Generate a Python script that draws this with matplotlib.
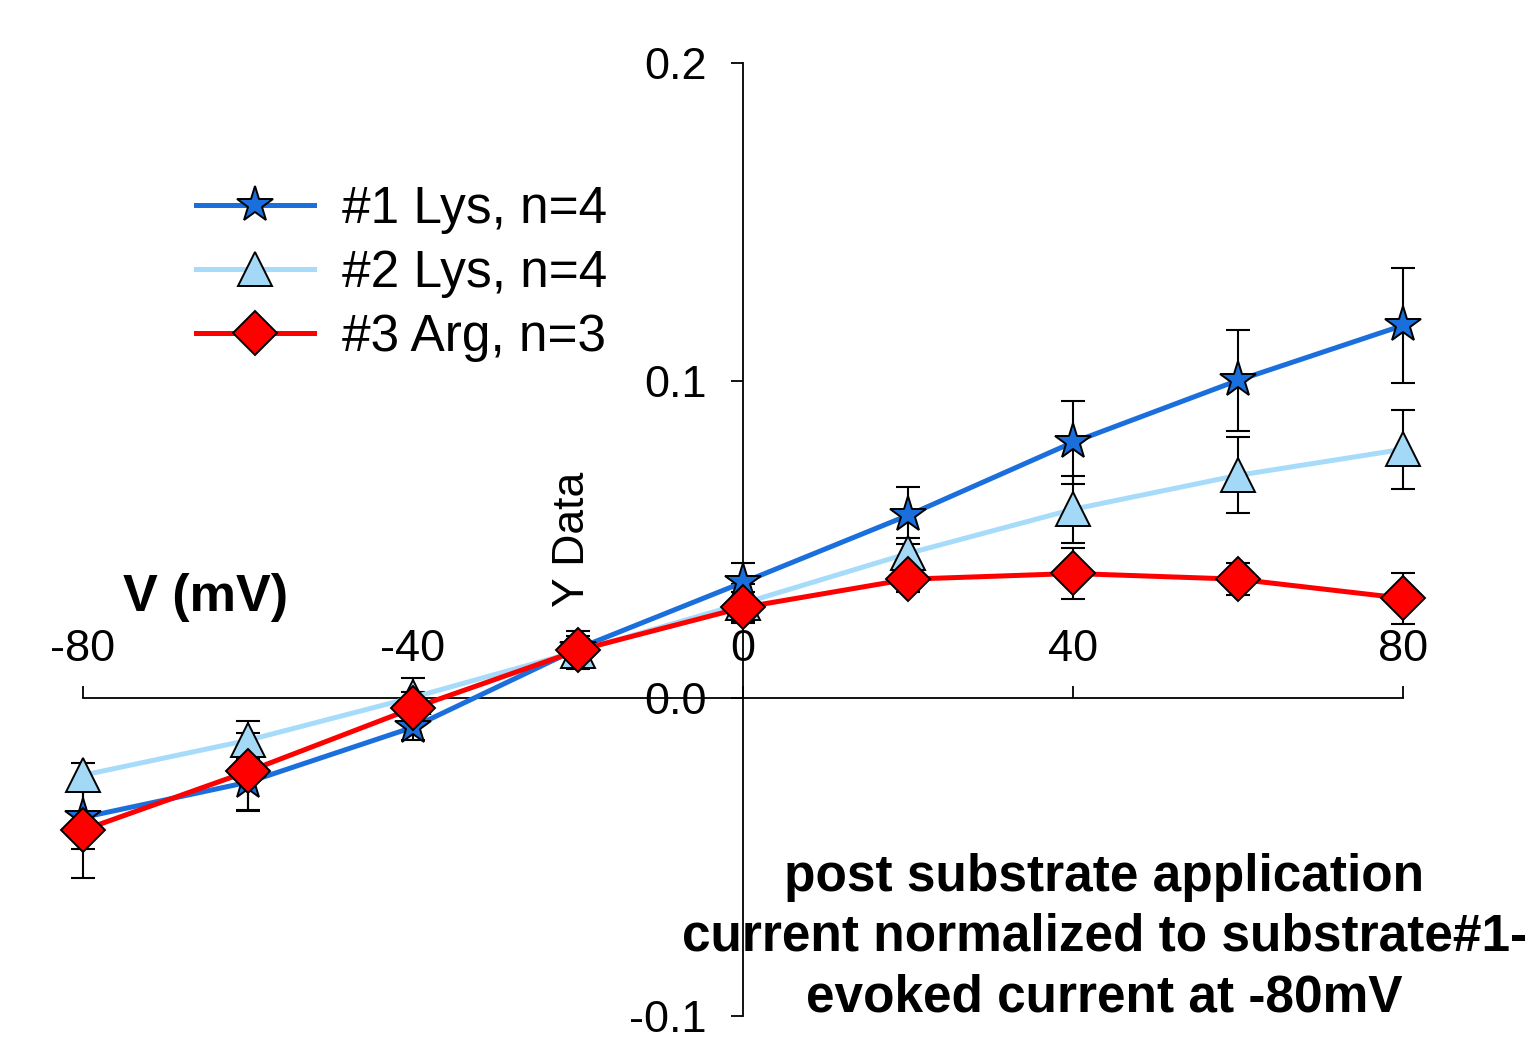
import numpy as np
import matplotlib
matplotlib.use("Agg")
import matplotlib.pyplot as plt

plt.rcParams['font.family'] = ['Liberation Sans', 'DejaVu Sans']

# ---- data ----
voltage = [-80, -60, -40, -20, 0, 20, 40, 60, 80]

lys1_mean = [-0.0375, -0.0264, -0.0091, 0.0157, 0.0365, 0.0576, 0.0806, 0.1001, 0.1174]
lys1_err = [0.010, 0.009, 0.004, 0.004, 0.006, 0.009, 0.013, 0.016, 0.018]

lys2_mean = [-0.0242, -0.0132, 0.0003, 0.0148, 0.0299, 0.0456, 0.0595, 0.0702, 0.0784]
lys2_err = [0.004, 0.006, 0.006, 0.004, 0.006, 0.005, 0.0105, 0.012, 0.0125]

arg3_mean = [-0.0415, -0.0230, -0.0031, 0.0151, 0.0286, 0.0375, 0.0393, 0.0375, 0.0315]
arg3_err = [0.015, 0.012, 0.005, 0.006, 0.005, 0.004, 0.008, 0.005, 0.008]

series = [
    ("#1 Lys, n=4", lys1_mean, lys1_err, "#1a6fdc", "#1a6fdc", "*", 27),
    ("#2 Lys, n=4", lys2_mean, lys2_err, "#a6dcfa", "#a3d8f7", "^", 24),
    ("#3 Arg, n=3", arg3_mean, arg3_err, "#ff0000", "#ff0000", "D", 22),
]

xticks = [-80, -40, 0, 40, 80]
yticks = [-0.1, 0.0, 0.1, 0.2]
ytick_labels = ["-0.1", "0.0", "0.1", "0.2"]

note_lines = ["post substrate application",
              "current normalized to substrate#1-",
              "evoked current at -80mV"]

W, H = 1527, 1062
fig = plt.figure(figsize=(W / 100, H / 100), dpi=100)
ax = fig.add_axes([83 / W, 1 - 1016 / H, (1403 - 83) / W, (1016 - 63) / H])
ax.set_xlim(-80, 80)
ax.set_ylim(-0.1, 0.2)

handles = []
for label, mean, err, lcolor, fcolor, marker, ms in series:
    ax.errorbar(voltage, mean, yerr=err, fmt="none", ecolor="black",
                elinewidth=1.5, capsize=8.5, capthick=1.5, clip_on=False, zorder=2)
    h, = ax.plot(voltage, mean, color=lcolor, lw=3.6, marker=marker, ms=ms,
                 markerfacecolor=fcolor, markeredgecolor="black", markeredgewidth=1.4,
                 clip_on=False, zorder=3, label=label)
    handles.append(h)

# axes crossing at zero
for s in ["top", "right"]:
    ax.spines[s].set_visible(False)
ax.spines["left"].set_position(("data", 0))
ax.spines["bottom"].set_position(("data", 0))
ax.spines["left"].set_linewidth(1.3)
ax.spines["bottom"].set_linewidth(1.3)

ax.set_xticks(xticks)
ax.set_xticklabels([str(v) for v in xticks])
ax.tick_params(axis="x", direction="in", length=9, width=1.3, labelsize=32.5, pad=-50)
ax.set_yticks(yticks)
ax.set_yticklabels(ytick_labels)
ax.tick_params(axis="y", direction="out", length=9, width=1.3, labelsize=32.5, pad=17)

leg = ax.legend(handles=handles, loc="upper left", bbox_to_anchor=(175 / W, 1 - 164 / H),
                bbox_transform=fig.transFigure, frameon=False, fontsize=37,
                handlelength=2.3, handletextpad=0.55, labelspacing=0.3, borderaxespad=0)

fig.text(206 / W, 1 - 597 / H, "V (mV)", fontsize=37.5, fontweight="bold",
         ha="center", va="center")
fig.text(573 / W, 1 - 539 / H, "Y Data", fontsize=32, rotation=90,
         ha="center", va="center")
for line, ypx in zip(note_lines, [877, 937, 998]):
    fig.text(1104 / W, 1 - ypx / H, line, fontsize=37, fontweight="bold",
             ha="center", va="center")

fig.savefig("out.png", dpi=100)
